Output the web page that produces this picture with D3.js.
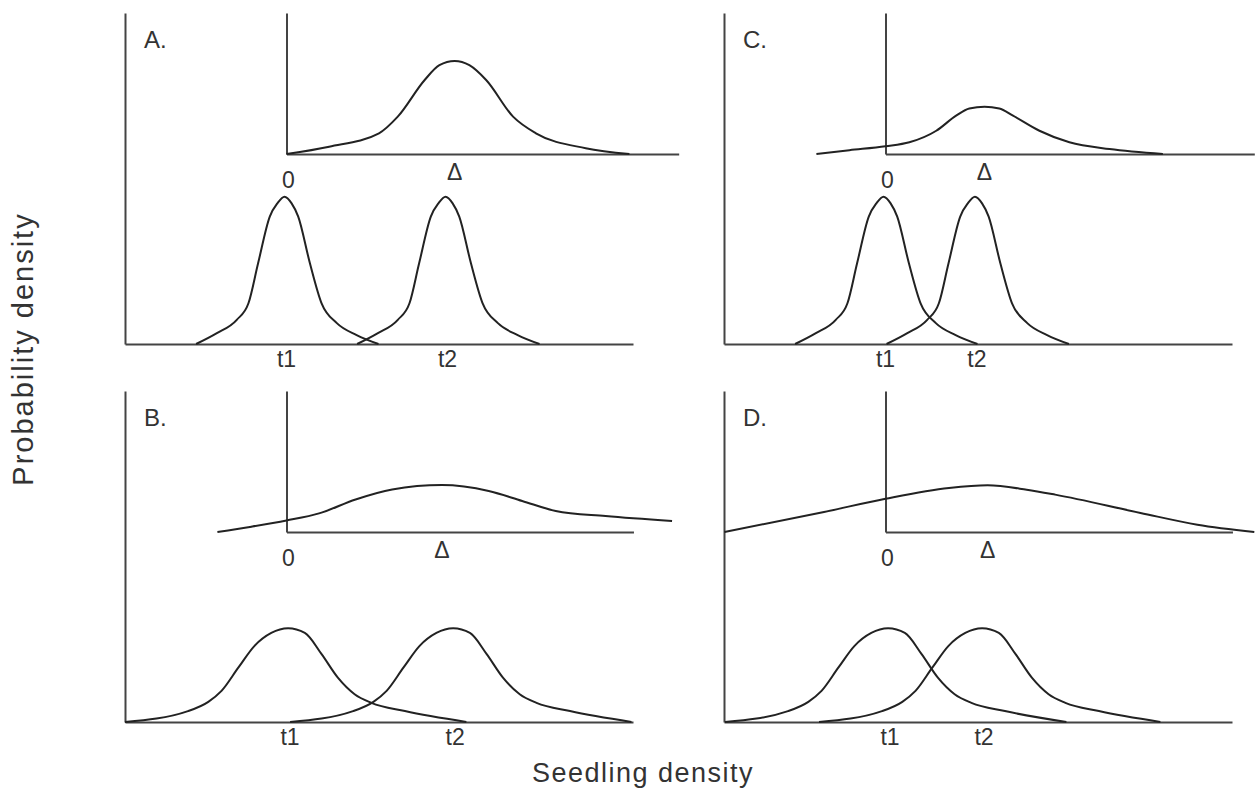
<!DOCTYPE html>
<html>
<head>
<meta charset="utf-8">
<script src="https://cdn.jsdelivr.net/npm/d3@7/dist/d3.min.js"></script>
<style>
  html, body { margin: 0; padding: 0; background: #fff; }
  text { font-family: "Liberation Sans", Arial, sans-serif; fill: #333; }
</style>
</head>
<body>
<div id="chart"></div>
<script>
// panel order: A, B, C, D
var panelLabels = ["A.", "B.", "C.", "D."];

// main plots: seedling density (0-100) vs probability density (0-100)
var t1Curves = [
  [[14.0,0],[18.0,3.2],[22.0,7.3],[24.3,12.3],[26.2,24.4],[28.5,38.5],[30.0,42.5],[31.4,44.5],[32.8,42.5],[34.1,38.5],[36.4,24.4],[38.7,12.3],[41.7,6.3],[45.6,2.7],[49.9,0]],
  [[0.0,0],[12.4,3.3],[16.4,6.1],[19.0,9.4],[22.3,16.4],[25.5,23.0],[28.8,26.9],[32.1,28.3],[35.4,26.9],[38.7,20.5],[41.9,13.4],[45.2,8.4],[48.5,5.8],[55.1,3.3],[67.2,0]],
  [[14.0,0],[18.0,3.2],[22.0,7.3],[24.3,12.3],[26.2,24.4],[28.5,38.5],[30.0,42.5],[31.4,44.5],[32.8,42.5],[34.1,38.5],[36.4,24.4],[38.7,12.3],[41.7,6.3],[45.6,2.7],[49.9,0]],
  [[0.2,0],[12.6,3.3],[16.6,6.1],[19.2,9.4],[22.5,16.4],[25.7,23.0],[29.0,26.9],[32.3,28.3],[35.6,26.9],[38.9,20.5],[42.1,13.4],[45.4,8.4],[48.7,5.8],[55.3,3.3],[67.4,0]]
];
var t2Curves = [
  [[45.7,0],[49.7,3.2],[53.7,7.3],[56.0,12.3],[57.9,24.4],[60.2,38.5],[61.7,42.5],[63.1,44.5],[64.5,42.5],[65.8,38.5],[68.1,24.4],[70.4,12.3],[73.4,6.3],[77.3,2.7],[81.6,0]],
  [[32.5,0],[44.9,3.3],[48.9,6.1],[51.5,9.4],[54.8,16.4],[58.0,23.0],[61.3,26.9],[64.6,28.3],[67.9,26.9],[71.2,20.5],[74.4,13.4],[77.7,8.4],[81.0,5.8],[87.6,3.3],[99.7,0]],
  [[32.0,0],[36.0,3.2],[40.0,7.3],[42.3,12.3],[44.2,24.4],[46.5,38.5],[48.0,42.5],[49.4,44.5],[50.8,42.5],[52.1,38.5],[54.4,24.4],[56.7,12.3],[59.7,6.3],[63.6,2.7],[67.9,0]],
  [[18.7,0],[31.1,3.3],[35.1,6.1],[37.7,9.4],[41.0,16.4],[44.2,23.0],[47.5,26.9],[50.8,28.3],[54.1,26.9],[57.4,20.5],[60.6,13.4],[63.9,8.4],[67.2,5.8],[73.8,3.3],[85.9,0]]
];
var t1Peak = [31.4, 32.1, 31.4, 32.3];
var t2Peak = [63.1, 64.6, 49.4, 50.8];

// inset plots: difference t2 - t1, zero at the inset's y axis
var deltaCurves = [
  [[0,0],[8.4,5.2],[18.2,14.7],[21.9,26.5],[27.2,52.5],[30.1,63.0],[33.1,66.0],[36.0,63.0],[39.3,52.5],[44.6,26.5],[49.1,14.7],[58.9,4.1],[67.5,0]],
  [[-13.6,0],[-6.9,3.8],[0,8.2],[6.4,13.2],[13.6,23.1],[20.8,30.2],[30.6,33.3],[39.8,29.1],[46.4,22.0],[53.0,14.9],[62.8,11.3],[75.9,7.8]],
  [[-13.6,0],[-7.1,2.7],[0,5.5],[4.7,8.3],[10.0,16.5],[13.9,27.2],[16.5,32.3],[19.5,33.5],[22.4,32.3],[25.1,27.2],[30.3,16.5],[36.2,8.3],[44.1,3.5],[54.6,0]],
  [[-31.7,0],[-12.1,14.2],[0,23.6],[12.5,31.2],[20.1,33.1],[27.8,30.0],[33.4,26.5],[50.2,13.5],[61.4,5.2],[72.6,0]]
];
var deltaPeak = [33.1, 30.6, 19.5, 20.1];
var insetXMax = [77.2, 68.3, 72.6, 68.3];
var mainXMax = 100, yMax = 100;

var xTitle = "Seedling density", yTitle = "Probability density";

// layout (pixels)
var W = 1257, H = 792;
var panelPos = [[125, 13], [125, 391], [724, 13], [724, 391]];
var mainW = 508, mainH = 331, insetDx = 161.5, insetH = 141;
var pxPerUnit = mainW / mainXMax;

var svg = d3.select("#chart").append("svg")
    .attr("width", W).attr("height", H);

var line = d3.line().curve(d3.curveMonotoneX);

function bareAxis(g, axis) {
    g.call(axis.tickValues([]).tickSizeOuter(0));
    g.select(".domain").attr("stroke", "#444").attr("stroke-width", 2);
}

panelLabels.forEach(function (lab, i) {
    var g = svg.append("g")
        .attr("transform", "translate(" + panelPos[i][0] + "," + panelPos[i][1] + ")");

    var x = d3.scaleLinear().domain([0, mainXMax]).range([0, mainW]),
        y = d3.scaleLinear().domain([0, yMax]).range([mainH, 0]);

    bareAxis(g.append("g").attr("transform", "translate(0," + mainH + ")"), d3.axisBottom(x));
    bareAxis(g.append("g"), d3.axisLeft(y));

    line.x(function (d) { return x(d[0]); }).y(function (d) { return y(d[1]); });
    [t1Curves[i], t2Curves[i]].forEach(function (c) {
        g.append("path").attr("d", line(c))
            .attr("fill", "none").attr("stroke", "#222").attr("stroke-width", 2);
    });

    g.append("text").attr("x", x(t1Peak[i]) + 2).attr("y", mainH + 23)
        .attr("text-anchor", "middle").attr("font-size", 23).text("t1");
    g.append("text").attr("x", x(t2Peak[i]) + 2).attr("y", mainH + 23)
        .attr("text-anchor", "middle").attr("font-size", 23).text("t2");

    g.append("text").attr("x", 19).attr("y", 35)
        .attr("font-size", 24).text(lab);

    // inset
    var ig = g.append("g").attr("transform", "translate(" + insetDx + ",0)");
    var ix = d3.scaleLinear().domain([0, insetXMax[i]]).range([0, insetXMax[i] * pxPerUnit]),
        iy = d3.scaleLinear().domain([0, yMax]).range([insetH, 0]);

    bareAxis(ig.append("g").attr("transform", "translate(0," + insetH + ")"), d3.axisBottom(ix));
    bareAxis(ig.append("g"), d3.axisLeft(iy));

    line.x(function (d) { return ix(d[0]); }).y(function (d) { return iy(d[1]); });
    ig.append("path").attr("d", line(deltaCurves[i]))
        .attr("fill", "none").attr("stroke", "#222").attr("stroke-width", 2);

    ig.append("text").attr("x", ix(0) + 2).attr("y", insetH + 34)
        .attr("text-anchor", "middle").attr("font-size", 23).text("0");
    ig.append("text").attr("x", ix(deltaPeak[i])).attr("y", insetH + 26)
        .attr("text-anchor", "middle").attr("font-size", 23).text("\u0394");
});

svg.append("text").attr("x", 643).attr("y", 782)
    .attr("text-anchor", "middle").attr("font-size", 27)
    .attr("letter-spacing", 1.5).text(xTitle);
svg.append("text")
    .attr("transform", "translate(33,349) rotate(-90)")
    .attr("text-anchor", "middle").attr("font-size", 29)
    .attr("letter-spacing", 2).text(yTitle);
</script>
</body>
</html>
